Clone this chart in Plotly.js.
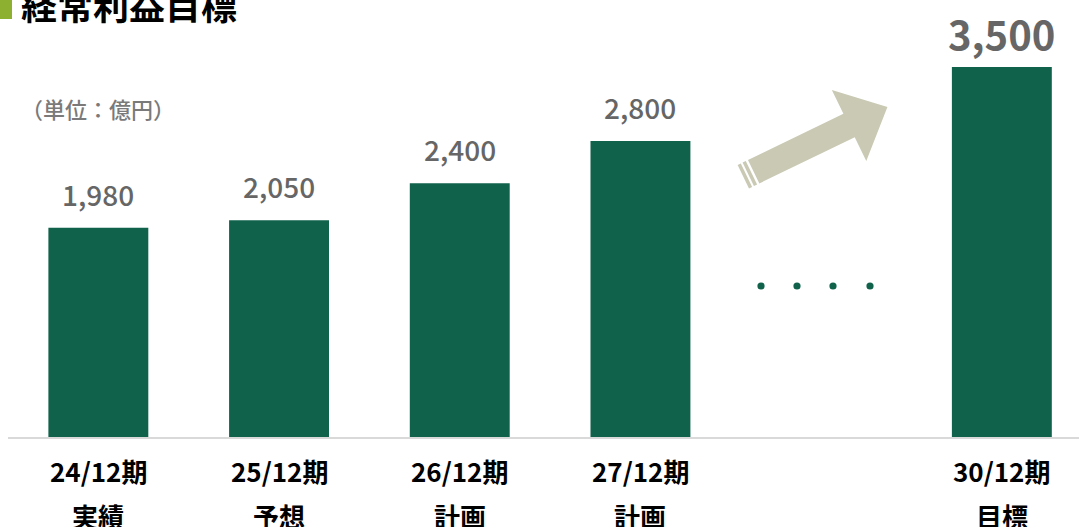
<!DOCTYPE html>
<html>
<head>
<meta charset="utf-8">
<script src="https://cdn.plot.ly/plotly-3.0.1.min.js"></script>
<style>html,body{margin:0;padding:0;background:#fff;}#chart{width:1079px;height:527px;}</style>
</head>
<body>
<div id="chart"></div>
<script>
// ---- data ----
const periods = ['24/12期', '25/12期', '26/12期', '27/12期', ' ', '30/12期'];
const phases = ['実績', '予想', '計画', '計画', '', '目標'];
const profits = [1980, 2050, 2400, 2800, null, 3500];
const chartTitle = '経常利益目標';
const unitLabel = '（単位：億円）';

// ---- layout constants ----
const W = 1079, H = 527;
const M = {l: 8, r: 0, t: 0, b: 90};
const PW = W - M.l - M.r, PH = H - M.t - M.b;
const px2x = p => (p - M.l) / PW;
const py2y = p => (H - M.b - p) / PH;

const FONT = '"Noto Sans CJK JP", "Noto Sans", sans-serif';
const GREEN = '#11624b';

const annotations = [];
// title
annotations.push({xref: 'paper', yref: 'paper', x: px2x(19), y: py2y(4), xanchor: 'left', yanchor: 'middle',
  text: '<b>' + chartTitle + '</b>', showarrow: false, font: {family: FONT, size: 36, color: '#000'}});
// unit
annotations.push({xref: 'paper', yref: 'paper', x: px2x(19), y: py2y(108), xanchor: 'left', yanchor: 'middle',
  text: unitLabel, showarrow: false, font: {family: FONT, size: 22, color: '#7a7a7a', weight: 500}});
// value labels & category labels
periods.forEach((p, i) => {
  if (profits[i] !== null) {
    const big = i === periods.length - 1;
    annotations.push({x: p, y: profits[i], xref: 'x', yref: 'y', yanchor: 'middle', yshift: 34,
      text: profits[i].toLocaleString('en-US'), showarrow: false,
      font: {family: FONT, size: big ? 40 : 28, color: '#666666', weight: big ? 700 : 500}});
  }
  if (p.trim()) {
    annotations.push({x: p, y: 0, xref: 'x', yref: 'paper', yanchor: 'middle', yshift: -33,
      text: '<b>' + p + '</b>', showarrow: false, font: {family: FONT, size: 26, color: '#000'}});
    annotations.push({x: p, y: 0, xref: 'x', yref: 'paper', yanchor: 'middle', yshift: -78,
      text: '<b>' + phases[i] + '</b>', showarrow: false, font: {family: FONT, size: 26, color: '#000'}});
  }
});

// decorative arrow (shaft-local coords -> pixels -> paper)
const P0 = [748, 160];
const d = [0.9, -0.436], n = [0.436, 0.9];
const loc = (u, v) => [P0[0] + u * d[0] + v * n[0], P0[1] + u * d[1] + v * n[1]];
const toPath = pts => 'M' + pts.map(q => px2x(q[0]).toFixed(5) + ',' + py2y(q[1]).toFixed(5)).join(' L') + ' Z';
const arrowPts = [loc(0, 0), loc(106, 0), loc(106, -26.5), loc(148.6, 13), loc(106, 52.5), loc(106, 26), loc(0, 26)];
const stripe1 = [loc(-6, 0), loc(-2.5, 0), loc(-2.5, 26), loc(-6, 26)];
const stripe2 = [loc(-11.5, 0), loc(-8, 0), loc(-8, 26), loc(-11.5, 26)];
const ARROW = '#c9c9b4';
const shapes = [arrowPts, stripe1, stripe2].map(pts => ({type: 'path', xref: 'paper', yref: 'paper',
  path: toPath(pts), fillcolor: ARROW, line: {width: 0}}));
// dots
[761, 797, 833, 870].forEach(cx => {
  shapes.push({type: 'circle', xref: 'paper', yref: 'paper', x0: px2x(cx - 3.6), x1: px2x(cx + 3.6),
    y0: py2y(286 + 3.6), y1: py2y(286 - 3.6), fillcolor: GREEN, line: {width: 0}});
});
// title marker
shapes.push({type: 'rect', xref: 'paper', yref: 'paper', x0: px2x(0), x1: px2x(12), y0: py2y(19), y1: py2y(-2),
  fillcolor: '#8db030', line: {width: 0}});

const trace = {type: 'bar', x: periods, y: profits, marker: {color: GREEN}, hoverinfo: 'skip', cliponaxis: false};

const layout = {
  width: W, height: H, margin: M, paper_bgcolor: '#fff', plot_bgcolor: '#fff',
  showlegend: false, bargap: 0.447,
  xaxis: {type: 'category', range: [-0.5, -0.5 + PW / 180.7], showticklabels: false, ticks: '',
    showgrid: false, zeroline: false, showline: true, linecolor: '#d9d9d9', linewidth: 2, fixedrange: true},
  yaxis: {range: [0, 4134], visible: false, showgrid: false, zeroline: false, fixedrange: true},
  annotations: annotations, shapes: shapes
};
Plotly.newPlot('chart', [trace], layout, {displayModeBar: false, staticPlot: true});
</script>
</body>
</html>
